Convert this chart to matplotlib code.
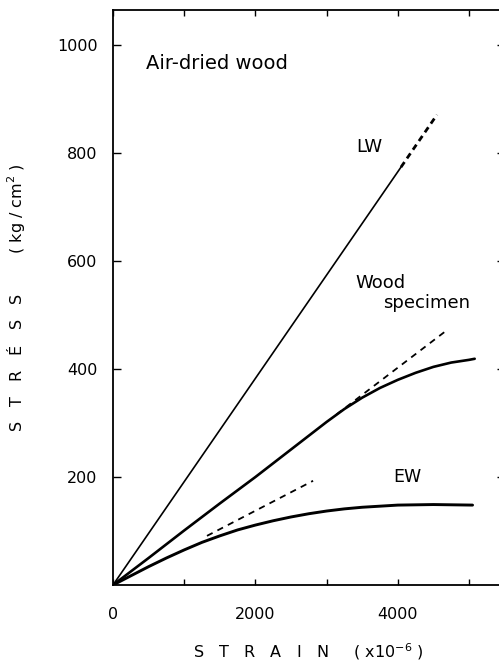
import matplotlib
matplotlib.use("Agg")
import matplotlib.pyplot as plt

# strain (x10^-6) / stress (kg/cm^2)
lw_strain = [0, 4045]
lw_stress = [0, 774]
lw_ext_strain = [4045, 4550]
lw_ext_stress = [774, 871]

wood_strain = [0, 500, 1000, 1500, 2000, 2500, 3000, 3250, 3500, 3750, 4000,
               4250, 4500, 4750, 5000, 5080]
wood_stress = [0, 50, 101, 151, 200, 251, 302, 326, 347, 365, 380,
               393, 404, 412, 417, 419]
wood_tan_strain = [3140, 4660]
wood_tan_stress = [316, 469]

ew_strain = [0, 250, 500, 750, 1000, 1250, 1500, 1750, 2000, 2250, 2500,
             2750, 3000, 3250, 3500, 3750, 4000, 4500, 5050]
ew_stress = [0, 17, 34, 50, 65, 79, 91, 102, 111, 119, 126,
             132, 137, 141, 144, 146, 148, 149, 148]
ew_tan_strain = [1320, 2810]
ew_tan_stress = [91, 193]

xticks = [0, 2000, 4000]
xticks_minor = [1000, 3000, 5000]
yticks = [200, 400, 600, 800, 1000]

plt.rcParams["font.family"] = "DejaVu Sans"

fig = plt.figure(figsize=(4.99, 6.70), dpi=100)
ax = fig.add_axes([113 / 499, 85 / 670, 391.6 / 499, 575 / 670])

ax.plot(lw_strain, lw_stress, color="black", linewidth=1.2)
ax.plot(lw_ext_strain, lw_ext_stress, color="black", linewidth=2.0,
        linestyle=(0, (2.2, 1.6)))
ax.plot(wood_strain, wood_stress, color="black", linewidth=1.9,
        solid_capstyle="round", solid_joinstyle="round")
ax.plot(wood_tan_strain, wood_tan_stress, color="black", linewidth=1.3,
        linestyle=(0, (3.5, 3)))
ax.plot(ew_strain, ew_stress, color="black", linewidth=2.1,
        solid_capstyle="round", solid_joinstyle="round")
ax.plot(ew_tan_strain, ew_tan_stress, color="black", linewidth=1.3,
        linestyle=(0, (3.5, 3)))

ax.set_xlim(0, 5500)
ax.set_ylim(0, 1065)
ax.set_xticks(xticks)
ax.set_xticks(xticks_minor, minor=True)
ax.set_yticks(yticks)
ax.tick_params(axis="both", which="both", direction="in", top=True,
               right=True, width=1.0, labelsize=11.5)
ax.tick_params(axis="x", which="both", length=4, pad=16)
ax.tick_params(axis="y", length=5.5, pad=11)
for s in ax.spines.values():
    s.set_linewidth(1.3)

ax.text(470, 965, "Air-dried wood", fontsize=14, va="center")
ax.text(3420, 811, "LW", fontsize=13, va="center")
ax.text(3410, 559, "Wood", fontsize=13, va="center")
ax.text(3790, 522, "specimen", fontsize=13, va="center")
ax.text(3930, 200, "EW", fontsize=12.5, va="center")

ax.set_xlabel("S   T   R   A   I   N     ( x10$^{-6}$ )", fontsize=11.5,
              labelpad=14)
ax.set_ylabel("S   T   R   É   S   S        ( kg / cm$^{2}$ )", fontsize=11.5,
              labelpad=22)

fig.savefig("out.png", dpi=100)
